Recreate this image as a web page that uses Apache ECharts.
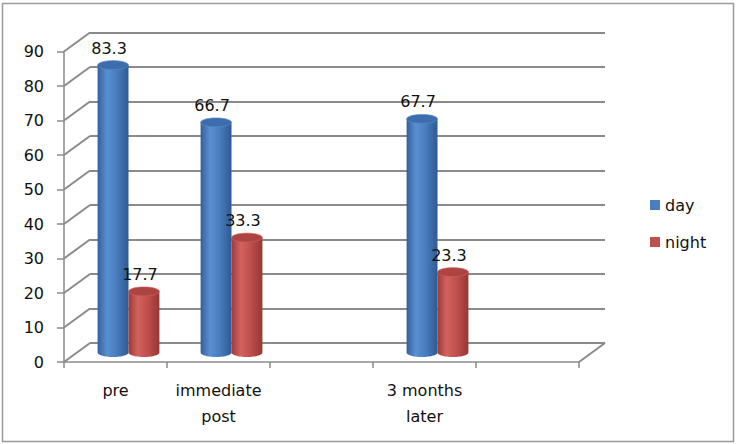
<!DOCTYPE html>
<html>
<head>
<meta charset="utf-8">
<script src="https://cdn.jsdelivr.net/npm/echarts@6/dist/echarts.min.js"></script>
<style>html,body{margin:0;padding:0;background:#fff}#c{width:740px;height:444px}</style>
</head>
<body>
<div id="c"></div>
<script>
// ---- data ----
const categories = ['pre', 'immediate\npost', '', '3 months\nlater', ''];
const dayValues = [83.3, 66.7, null, 67.7, null];
const nightValues = [17.7, 33.3, null, 23.3, null];
const yTicks = [0, 10, 20, 30, 40, 50, 60, 70, 80, 90];
const seriesNames = ['day', 'night'];

// ---- styling ----
const DX = 26, DY = 19;
const LINE = '#8a8a8a';
const FONT = 'DejaVu Sans';
const FRONT = {left: 64, right: 161, top: 51.5, bottom: 82};
const BACK = {left: FRONT.left + DX, right: FRONT.right - DX, top: FRONT.top - DY, bottom: FRONT.bottom + DY};

const palette = {
  day: {base: '#4a7ebf', top: '#3d6dac', stops: ['#33609c', '#5a8fd2', '#4a7ebf', '#2e5a93']},
  night: {base: '#c0504d', top: '#ad4441', stops: ['#9d3b38', '#d3625e', '#c0504d', '#963734']}
};

function toPairs(arr) {
  const out = [];
  arr.forEach((v, i) => { if (v !== null) out.push([i, v]); });
  return out;
}

function ellipsePts(cx, cy, rx, ry, a0, a1, n) {
  const pts = [];
  for (let k = 0; k <= n; k++) {
    const t = a0 + (a1 - a0) * k / n;
    pts.push([cx + rx * Math.cos(t), cy + ry * Math.sin(t)]);
  }
  return pts;
}

function cylinder(idx, pal) {
  return function (params, api) {
    const ci = api.value(0), v = api.value(1);
    const base = api.coord([ci, 0]);
    const top = api.coord([ci, v]);
    const bw = api.size([1, 0])[0] * 0.3;
    const c0 = base[0] + DX / 2;
    const x0 = idx === 0 ? c0 - bw : c0;
    const x1 = x0 + bw;
    const cx = (x0 + x1) / 2;
    const rx = bw / 2, ry = 4.5;
    const yb = base[1] - DY / 2, yt = top[1] - DY / 2;
    const body = [[x0, yt]].concat(ellipsePts(cx, yb, rx, ry, Math.PI, 0, 30)).concat([[x1, yt]]);
    const cap = ellipsePts(cx, yt, rx, ry, 0, Math.PI * 2, 48);
    const grad = {type: 'linear', x: 0, y: 0, x2: 1, y2: 0, colorStops: [
      {offset: 0, color: pal.stops[0]}, {offset: 0.3, color: pal.stops[1]},
      {offset: 0.6, color: pal.stops[2]}, {offset: 1, color: pal.stops[3]}]};
    return {
      type: 'group',
      children: [
        {type: 'polygon', shape: {points: body}, style: {fill: grad}},
        {type: 'polygon', shape: {points: cap}, style: {fill: pal.top, stroke: pal.stops[1], lineWidth: 0.6}},
        {type: 'text', style: {text: String(v), x: cx - 4, y: yt - 17, textAlign: 'center', textVerticalAlign: 'middle',
          font: '16px "' + FONT + '"', fill: '#111'}}
      ]
    };
  };
}

const chart = echarts.init(document.getElementById('c'), null, {renderer: 'svg'});
chart.setOption({
  animation: false,
  backgroundColor: '#fff',
  graphic: [{type: 'rect', shape: {x: 2.5, y: 3.5, width: 731, height: 438}, style: {fill: 'none', stroke: '#9a9a9a', lineWidth: 1.5}, z: -10}],
  legend: {
    orient: 'vertical', left: 645, top: 192, itemWidth: 10, itemHeight: 10, itemGap: 21,
    data: [{name: 'day', icon: 'rect'}, {name: 'night', icon: 'rect'}],
    textStyle: {fontFamily: FONT, fontSize: 16, color: '#111'}
  },
  grid: [
    {left: FRONT.left, right: FRONT.right, top: FRONT.top, bottom: FRONT.bottom},
    {left: BACK.left, right: BACK.right, top: BACK.top, bottom: BACK.bottom}
  ],
  xAxis: [
    {type: 'category', gridIndex: 0, data: categories, boundaryGap: true,
      axisLine: {lineStyle: {color: LINE, width: 1.5}},
      axisTick: {show: true, length: 6, lineStyle: {color: LINE, width: 1.5}},
      axisLabel: {interval: 0, margin: 15, fontFamily: FONT, fontSize: 16, color: '#111', lineHeight: 26},
      splitLine: {show: false}},
    {type: 'category', gridIndex: 1, data: categories, show: false}
  ],
  yAxis: [
    {type: 'value', gridIndex: 0, min: 0, max: 90, interval: 10,
      axisLine: {show: true, lineStyle: {color: LINE, width: 1.5}},
      axisTick: {show: true, length: 7, lineStyle: {color: LINE, width: 1.5}},
      axisLabel: {margin: 20, fontFamily: FONT, fontSize: 16, color: '#111'},
      splitLine: {show: false}},
    {type: 'value', gridIndex: 1, min: 0, max: 90, interval: 10,
      axisLine: {show: false}, axisTick: {show: false}, axisLabel: {show: false},
      splitLine: {show: true, lineStyle: {color: LINE, width: 2}}}
  ],
  series: [
    {type: 'custom', name: 'wall', xAxisIndex: 0, yAxisIndex: 0, silent: true, z: 1,
      data: yTicks.map(t => [0, t]), encode: {x: 0, y: 1},
      renderItem: function (params, api) {
        const p = api.coord([0, api.value(1)]);
        const x = params.coordSys.x;
        return {type: 'line', shape: {x1: x, y1: p[1], x2: x + DX, y2: p[1] - DY}, style: {stroke: LINE, lineWidth: 2}};
      }},
    {type: 'custom', name: 'floor', xAxisIndex: 0, yAxisIndex: 0, silent: true, z: 1,
      data: [[categories.length - 1, yTicks[0]]], encode: {x: 0, y: 1},
      renderItem: function (params, api) {
        const p = api.coord([0, api.value(1)]);
        const x = params.coordSys.x + params.coordSys.width;
        return {type: 'line', shape: {x1: x, y1: p[1], x2: x + DX, y2: p[1] - DY}, style: {stroke: LINE, lineWidth: 2}};
      }},
    {type: 'custom', name: seriesNames[0], xAxisIndex: 0, yAxisIndex: 0, z: 3,
      itemStyle: {color: palette.day.base},
      data: toPairs(dayValues), encode: {x: 0, y: 1},
      renderItem: cylinder(0, palette.day)},
    {type: 'custom', name: seriesNames[1], xAxisIndex: 0, yAxisIndex: 0, z: 3,
      itemStyle: {color: palette.night.base},
      data: toPairs(nightValues), encode: {x: 0, y: 1},
      renderItem: cylinder(1, palette.night)}
  ]
});
</script>
</body>
</html>
